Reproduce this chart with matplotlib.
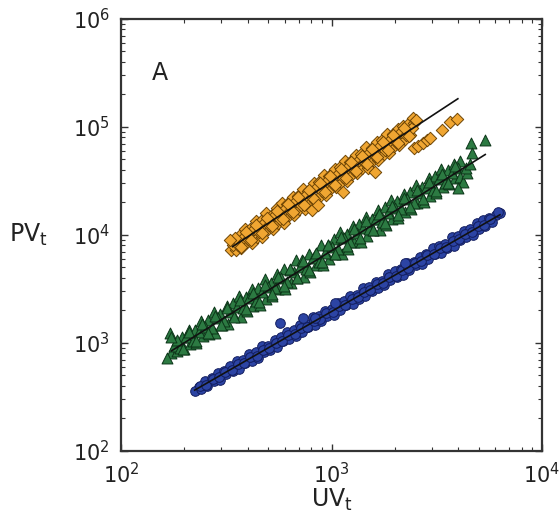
import numpy as np
import matplotlib
matplotlib.use("Agg")
import matplotlib.pyplot as plt
from matplotlib.transforms import ScaledTranslation

# values, stored as log10(UV) / log10(PV)
orange_log_uv = [2.540, 2.565, 2.590, 2.615, 2.640, 2.665, 2.690, 2.715, 2.740, 2.765,
                 2.790, 2.815, 2.840, 2.865, 2.890, 2.915, 2.940, 2.965, 2.990, 3.015,
                 3.040, 3.065, 3.090, 3.115, 3.140, 3.165, 3.190, 3.215, 3.240, 3.265,
                 3.290, 3.315, 3.340, 3.365, 3.390,
                 2.522, 2.547, 2.572, 2.597, 2.622, 2.647, 2.672, 2.697, 2.722, 2.747,
                 2.772, 2.797, 2.822, 2.847, 2.872, 2.897, 2.922, 2.947, 2.972, 2.997,
                 3.022, 3.047, 3.072, 3.097, 3.122, 3.147, 3.172, 3.197, 3.222, 3.247,
                 3.272, 3.297, 3.322, 3.347, 3.372,
                 2.530, 2.555, 2.580, 2.605, 2.630, 2.655, 2.680, 2.705, 2.730, 2.755,
                 2.780, 2.805, 2.830, 2.855, 2.880, 2.905, 2.930, 2.955, 2.980, 3.005,
                 3.030, 3.055, 3.080, 3.105, 3.130, 3.155, 3.180, 3.205, 3.230, 3.255,
                 3.280, 3.305, 3.330, 3.355, 3.380,
                 2.543, 2.568, 2.593, 2.618, 2.643, 2.668, 2.693, 2.718, 2.743, 2.768,
                 2.793, 2.818, 2.843, 2.868, 2.893, 2.918, 2.943, 2.968, 2.993, 3.018,
                 3.043, 3.068, 3.093, 3.118, 3.143, 3.168, 3.193, 3.218, 3.243, 3.268,
                 3.293, 3.318, 3.343, 3.368,
                 2.518, 3.055, 2.907, 2.936, 3.207, 3.387, 3.400, 3.392, 3.411, 3.435,
                 3.453, 3.468, 3.525, 3.563, 3.596]
orange_log_pv = [3.940, 4.002, 4.054, 4.056, 4.128, 4.130, 4.202, 4.184, 4.246, 4.298,
                 4.290, 4.352, 4.364, 4.426, 4.408, 4.480, 4.492, 4.554, 4.546, 4.608,
                 4.630, 4.682, 4.674, 4.736, 4.748, 4.810, 4.802, 4.864, 4.876, 4.938,
                 4.930, 4.982, 5.004, 5.026, 5.038,
                 3.860, 3.862, 3.874, 3.936, 3.928, 3.980, 3.982, 4.054, 4.056, 4.108,
                 4.110, 4.182, 4.184, 4.236, 4.238, 4.310, 4.312, 4.364, 4.366, 4.438,
                 4.440, 4.492, 4.494, 4.566, 4.568, 4.620, 4.622, 4.694, 4.696, 4.748,
                 4.760, 4.822, 4.834, 4.886, 4.928,
                 3.910, 3.905, 3.970, 3.960, 4.050, 4.030, 4.110, 4.090, 4.180, 4.150,
                 4.240, 4.220, 4.310, 4.280, 4.370, 4.350, 4.440, 4.410, 4.500, 4.470,
                 4.560, 4.540, 4.630, 4.600, 4.690, 4.670, 4.760, 4.730, 4.820, 4.790,
                 4.880, 4.860, 4.950, 4.920, 4.990,
                 3.966, 3.888, 4.030, 3.952, 4.094, 4.016, 4.158, 4.080, 4.222, 4.144,
                 4.286, 4.208, 4.350, 4.272, 4.414, 4.336, 4.478, 4.400, 4.542, 4.464,
                 4.606, 4.528, 4.670, 4.592, 4.734, 4.656, 4.798, 4.720, 4.862, 4.784,
                 4.926, 4.848, 4.990, 4.912,
                 3.954, 4.398, 4.231, 4.278, 4.583, 5.083, 5.060, 4.806, 4.824, 4.852,
                 4.880, 4.898, 4.972, 5.046, 5.074]

green_log_uv = [2.262, 2.292, 2.322, 2.352, 2.382, 2.412, 2.442, 2.472, 2.502, 2.532,
                2.562, 2.592, 2.622, 2.652, 2.682, 2.712, 2.742, 2.772, 2.802, 2.832,
                2.862, 2.892, 2.922, 2.952, 2.982, 3.012, 3.042, 3.072, 3.102, 3.132,
                3.162, 3.192, 3.222, 3.252, 3.282, 3.312, 3.342, 3.372, 3.402, 3.432,
                3.462, 3.492, 3.522, 3.552, 3.582, 3.612,
                2.238, 2.268, 2.298, 2.328, 2.358, 2.388, 2.418, 2.448, 2.478, 2.508,
                2.538, 2.568, 2.598, 2.628, 2.658, 2.688, 2.718, 2.748, 2.778, 2.808,
                2.838, 2.868, 2.898, 2.928, 2.958, 2.988, 3.018, 3.048, 3.078, 3.108,
                3.138, 3.168, 3.198, 3.228, 3.258, 3.288, 3.318, 3.348, 3.378, 3.408,
                3.438, 3.468, 3.498, 3.528, 3.558, 3.588,
                2.25, 2.28, 2.31, 2.34, 2.37, 2.40, 2.43, 2.46, 2.49, 2.52,
                2.55, 2.58, 2.61, 2.64, 2.67, 2.70, 2.73, 2.76, 2.79, 2.82,
                2.85, 2.88, 2.91, 2.94, 2.97, 3.00, 3.03, 3.06, 3.09, 3.12,
                3.15, 3.18, 3.21, 3.24, 3.27, 3.30, 3.33, 3.36, 3.39, 3.42,
                3.45, 3.48, 3.51, 3.54, 3.57, 3.60,
                2.265, 2.295, 2.325, 2.355, 2.385, 2.415, 2.445, 2.475, 2.505, 2.535,
                2.565, 2.595, 2.625, 2.655, 2.685, 2.715, 2.745, 2.775, 2.805, 2.835,
                2.865, 2.895, 2.925, 2.955, 2.985, 3.015, 3.045, 3.075, 3.105, 3.135,
                3.165, 3.195, 3.225, 3.255, 3.285, 3.315, 3.345, 3.375, 3.405, 3.435,
                3.465, 3.495, 3.525, 3.555, 3.585,
                2.219, 2.233, 2.240, 3.729, 3.663, 3.668, 3.610, 3.625, 3.601, 3.644,
                3.640, 3.660]
green_log_pv = [2.988, 3.055, 3.121, 3.118, 3.204, 3.211, 3.288, 3.264, 3.341, 3.367,
                3.434, 3.421, 3.497, 3.504, 3.590, 3.557, 3.634, 3.680, 3.677, 3.763,
                3.770, 3.827, 3.813, 3.910, 3.906, 3.963, 4.030, 4.006, 4.083, 4.099,
                4.166, 4.143, 4.229, 4.256, 4.322, 4.309, 4.376, 4.392, 4.459, 4.445,
                4.522, 4.549, 4.605, 4.602, 4.658, 4.685,
                2.908, 2.925, 2.941, 2.988, 2.994, 3.061, 3.078, 3.094, 3.161, 3.177,
                3.244, 3.241, 3.297, 3.344, 3.350, 3.407, 3.434, 3.500, 3.497, 3.553,
                3.600, 3.607, 3.653, 3.720, 3.716, 3.773, 3.820, 3.826, 3.873, 3.929,
                3.936, 3.993, 4.049, 4.046, 4.092, 4.149, 4.156, 4.212, 4.239, 4.295,
                4.302, 4.359, 4.385, 4.442, 4.468, 4.525,
                2.968, 2.955, 3.051, 3.018, 3.104, 3.151, 3.138, 3.234, 3.201, 3.287,
                3.334, 3.321, 3.417, 3.384, 3.470, 3.517, 3.504, 3.600, 3.567, 3.653,
                3.700, 3.687, 3.783, 3.750, 3.836, 3.883, 3.870, 3.966, 3.933, 4.019,
                4.066, 4.053, 4.149, 4.116, 4.202, 4.249, 4.236, 4.332, 4.299, 4.385,
                4.432, 4.419, 4.515, 4.482, 4.568, 4.615,
                3.026, 2.943, 3.099, 3.016, 3.172, 3.089, 3.246, 3.162, 3.319, 3.235,
                3.392, 3.309, 3.465, 3.382, 3.538, 3.455, 3.612, 3.528, 3.685, 3.601,
                3.758, 3.675, 3.831, 3.748, 3.904, 3.821, 3.978, 3.894, 4.051, 3.967,
                4.124, 4.041, 4.197, 4.114, 4.270, 4.187, 4.344, 4.260, 4.417, 4.333,
                4.490, 4.407, 4.563, 4.480, 4.636,
                2.861, 3.093, 3.050, 4.880, 4.852, 4.759, 4.537, 4.491, 4.435, 4.574,
                4.620, 4.660]

blue_log_uv = [2.370, 2.400, 2.430, 2.460, 2.490, 2.520, 2.550, 2.580, 2.610, 2.640,
               2.670, 2.700, 2.730, 2.760, 2.790, 2.820, 2.850, 2.880, 2.910, 2.940,
               2.970, 3.000, 3.030, 3.060, 3.090, 3.120, 3.150, 3.180, 3.210, 3.240,
               3.270, 3.300, 3.330, 3.360, 3.390, 3.420, 3.450, 3.480, 3.510, 3.540,
               3.570, 3.600, 3.630, 3.660, 3.690, 3.720, 3.750, 3.780,
               2.350, 2.380, 2.410, 2.440, 2.470, 2.500, 2.530, 2.560, 2.590, 2.620,
               2.650, 2.680, 2.710, 2.740, 2.770, 2.800, 2.830, 2.860, 2.890, 2.920,
               2.950, 2.980, 3.010, 3.040, 3.070, 3.100, 3.130, 3.160, 3.190, 3.220,
               3.250, 3.280, 3.310, 3.340, 3.370, 3.400, 3.430, 3.460, 3.490, 3.520,
               3.550, 3.580, 3.610, 3.640, 3.670, 3.700, 3.730, 3.760,
               2.375, 2.405, 2.435, 2.465, 2.495, 2.525, 2.555, 2.585, 2.615, 2.645,
               2.675, 2.705, 2.735, 2.765, 2.795, 2.825, 2.855, 2.885, 2.915, 2.945,
               2.975, 3.005, 3.035, 3.065, 3.095, 3.125, 3.155, 3.185, 3.215, 3.245,
               3.275, 3.305, 3.335, 3.365, 3.395, 3.425, 3.455, 3.485, 3.515, 3.545,
               3.575, 3.605, 3.635, 3.665, 3.695, 3.725, 3.755,
               2.755, 2.865, 2.922, 3.017, 3.349, 3.800, 3.790]
blue_log_pv = [2.593, 2.647, 2.670, 2.724, 2.737, 2.781, 2.835, 2.838, 2.892, 2.915,
               2.969, 2.973, 3.026, 3.050, 3.103, 3.117, 3.161, 3.174, 3.238, 3.251,
               3.295, 3.309, 3.372, 3.386, 3.429, 3.443, 3.507, 3.520, 3.564, 3.577,
               3.641, 3.665, 3.688, 3.742, 3.745, 3.799, 3.823, 3.876, 3.900, 3.913,
               3.977, 3.991, 4.034, 4.058, 4.111, 4.135, 4.159, 4.182,
               2.553, 2.577, 2.600, 2.644, 2.657, 2.711, 2.735, 2.758, 2.812, 2.835,
               2.859, 2.913, 2.936, 2.960, 3.013, 3.037, 3.061, 3.104, 3.148, 3.161,
               3.205, 3.249, 3.262, 3.306, 3.349, 3.363, 3.407, 3.430, 3.484, 3.507,
               3.531, 3.585, 3.608, 3.632, 3.675, 3.719, 3.733, 3.776, 3.820, 3.833,
               3.877, 3.901, 3.954, 3.978, 4.001, 4.055, 4.079, 4.122,
               2.600, 2.614, 2.667, 2.681, 2.734, 2.748, 2.802, 2.815, 2.869, 2.882,
               2.936, 2.950, 3.003, 3.017, 3.070, 3.084, 3.138, 3.151, 3.205, 3.218,
               3.272, 3.286, 3.339, 3.353, 3.406, 3.420, 3.474, 3.487, 3.541, 3.554,
               3.608, 3.622, 3.675, 3.689, 3.742, 3.756, 3.810, 3.823, 3.877, 3.890,
               3.944, 3.958, 4.011, 4.025, 4.078, 4.092, 4.146,
               3.185, 3.231, 3.231, 3.370, 3.741, 4.204, 4.215]

# power-law fits: PV = 10**intercept * UV**slope, over a UV range (log10)
fit_slopes = [1.28, 1.22, 1.12]
fit_intercepts = [0.652, 0.193, -0.070]
fit_log_ranges = [(2.53, 3.60), (2.24, 3.73), (2.35, 3.80)]

series = [
    (orange_log_uv, orange_log_pv, 'D', 40, '#F0A632', '#6E4505'),
    (green_log_uv, green_log_pv, '^', 62, '#2C7A42', '#0C3518'),
    (blue_log_uv, blue_log_pv, 'o', 48, '#2C44A4', '#121D5E'),
]

fig = plt.figure(figsize=(5.6, 5.23), dpi=100)
ax = fig.add_axes([0.216, 0.138, 0.752, 0.826])

for lx, ly, mk, sz, fc, ec in series:
    ax.scatter(10 ** np.array(lx), 10 ** np.array(ly), marker=mk, s=sz,
               facecolor=fc, edgecolor=ec, linewidth=0.7, zorder=2)

for slope, icpt, (lo, hi) in zip(fit_slopes, fit_intercepts, fit_log_ranges):
    uv = np.logspace(lo, hi, 50)
    ax.plot(uv, 10 ** icpt * uv ** slope, color='#111111', lw=1.2, zorder=3)

ax.set_xscale('log')
ax.set_yscale('log')
ax.set_xlim(1e2, 1e4)
ax.set_ylim(1e2, 1e6)

ax.tick_params(which='both', direction='in', top=True, right=True,
               colors='#333333', labelcolor='#222222')
ax.tick_params(which='major', length=5, width=1, labelsize=15, pad=8)
ax.tick_params(which='minor', length=3, width=0.8)
for sp in ax.spines.values():
    sp.set_linewidth(1.6)
    sp.set_color('#333333')

# pull the right-most x tick label a little inside the figure, as in the original
fig.canvas.draw()
last = ax.get_xticklabels()[-1]
last.set_transform(last.get_transform() + ScaledTranslation(-5 / 72, 0, fig.dpi_scale_trans))

ax.set_xlabel('UV$_\\mathrm{t}$', fontsize=17, color='#222222', labelpad=0)
ax.set_ylabel('PV$_\\mathrm{t}$', fontsize=17, color='#222222', rotation=0,
              labelpad=32, va='center')
ax.text(0.093, 0.875, 'A', transform=ax.transAxes, fontsize=17,
        color='#222222', ha='center', va='center')

fig.savefig('out.png', dpi=100)
